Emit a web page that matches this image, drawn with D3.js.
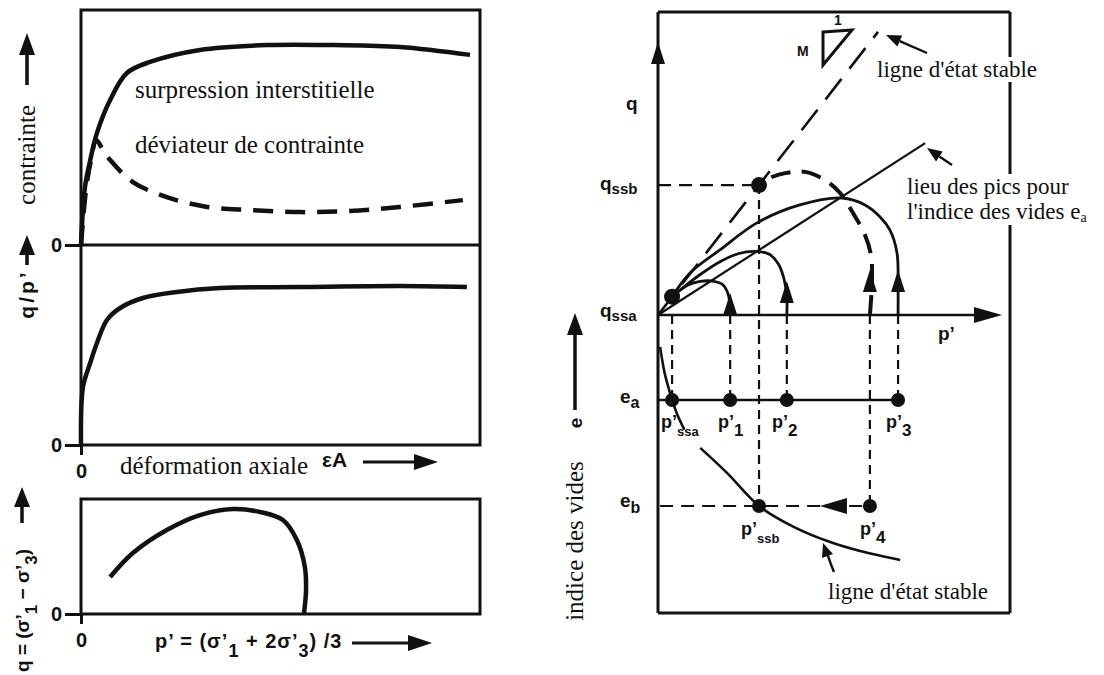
<!DOCTYPE html>
<html>
<head>
<meta charset="utf-8">
<script src="https://cdn.jsdelivr.net/npm/d3@7"></script>
<style>
  body { margin: 0; background: #fff; }
  .serif { font-family: "Liberation Serif", "DejaVu Serif", serif; font-size: 25px; fill: #111; }
  .serifR { font-family: "Liberation Serif", "DejaVu Serif", serif; font-size: 23px; fill: #111; }
  .sans { font-family: "Liberation Sans", Arial, sans-serif; font-weight: bold; font-size: 17px; fill: #111; }
</style>
</head>
<body>
<svg id="chart" width="1104" height="675"></svg>
<script>
// ---------- data (relative units 0-100) ----------
// top-left: stress vs axial strain
const poreStrain   = [0, 1, 2.3, 4, 7.3, 11.5, 17.3, 29.8, 46.6, 63.2, 80, 97.5];
const porePressure = [0, 24.7, 36, 47.7, 61.7, 73.2, 77.9, 83, 85.1, 85.1, 84.3, 80.9];
const devStrain    = [0, 1.25, 2.5, 3.8, 5.5, 7.3, 13, 21.5, 31.6, 42.4, 54.9, 67.4, 79.9, 95.7];
const devStress    = [0, 23.4, 36.2, 44.7, 40.4, 36.2, 26.8, 20.4, 16.2, 14.9, 14, 14.5, 16.2, 19.1];
// middle-left: q/p' vs axial strain
const ratioStrain  = [0, 0.5, 2.3, 4, 6.5, 9.8, 15.5, 24, 34.8, 54.9, 80, 96.7];
const ratioQP      = [0, 29, 41, 51, 62.5, 68.5, 73.5, 76.5, 78.5, 79, 79.5, 79];
// bottom-left: stress path q vs p'
const pathP        = [7.3, 13, 21.5, 29.8, 38.1, 44.9, 50.6, 54.1, 56.1, 56.4, 55.9];
const pathQ        = [32.2, 53, 73, 86, 91.3, 88.7, 81.7, 64.3, 40.9, 20.9, 0.9];

// right: q - p' plane and e - p' plane
const slopeM   = 1.51;          // steady state line q = M p'
const sslEndP  = 62.5;
const lieuP    = [0, 75.9];
const lieuQ    = [0, 57.3];
const qSSA = 6.1, qSSB = 43.3;
const eA = 71.5, eB = 35.9;
const pNames  = ["ssa", "1", "ssb", "2", "4", "3"];
const pValues = [4.0, 20.5, 28.7, 36.6, 60.2, 68.2];
const path1P = [20.5, 20.3, 19.6, 18.3, 15.5, 12, 8.5, 4];
const path1Q = [0, 5, 8, 10.2, 11.3, 11.2, 10, 6.1];
const path2P = [36.6, 36.6, 35.8, 34.2, 31.5, 27.5, 23, 18, 12, 7, 4];
const path2Q = [0, 6, 12, 17, 20.3, 21.2, 20.5, 18, 13.5, 9, 6.1];
const path3P = [68.2, 68.2, 67.9, 65.9, 63.1, 58.8, 52.3, 40.3, 28.1, 17.6, 9.1, 4];
const path3Q = [0, 8.3, 20.7, 28.3, 32.7, 36.7, 39, 36.7, 30.7, 21.7, 14, 6.1];
const path4P = [60.2, 60.8, 60.5, 58.8, 55.4, 51.7, 47.4, 41.8, 36.1, 31.8, 28.7];
const path4Q = [0, 11.7, 20, 26.7, 34, 40.7, 45, 47.7, 47.3, 45.7, 43.3];
const arrowP = [20.5, 36.6, 60.2, 68.2];
const arrowQ = [7.3, 11.3, 15, 15];
// steady state line in e - p' (split where the p'ssa label sits)
const sslEP1 = [0.6, 1.8, 3, 4, 5.5, 7.5];
const sslEE1 = [89.3, 81, 75.5, 71.5, 66.5, 61.5];
const sslEP2 = [12, 19.6, 28.7, 38.4, 48.9, 57.4, 68.8];
const sslEE2 = [55.4, 47, 35.9, 29, 23.8, 20.8, 17.8];

const ink = "#111";
const svg = d3.select("#chart");

// ---------- scales ----------
const xL = d3.scaleLinear().domain([0, 100]).range([81, 480]);
const yA = d3.scaleLinear().domain([0, 100]).range([245, 10]);
const yB = d3.scaleLinear().domain([0, 100]).range([445, 245]);
const yC = d3.scaleLinear().domain([0, 100]).range([614, 499]);
const xR = d3.scaleLinear().domain([0, 100]).range([658, 1010]);
const qR = d3.scaleLinear().domain([0, 100]).range([315, 15]);
const eR = d3.scaleLinear().domain([0, 100]).range([613, 315]);

const smooth = d3.curveCatmullRom.alpha(0.5);

function curve(xs, ys, sx, sy) {
  return d3.line().x(d => sx(d[0])).y(d => sy(d[1])).curve(smooth)(d3.zip(xs, ys));
}

function arrow(x1, y1, x2, y2, len = 16, half = 6, width = 2.5) {
  const a = Math.atan2(y2 - y1, x2 - x1);
  const bx = x2 - len * Math.cos(a), by = y2 - len * Math.sin(a);
  svg.append("line").attr("x1", x1).attr("y1", y1).attr("x2", bx).attr("y2", by)
    .attr("stroke", ink).attr("stroke-width", width);
  const px = -Math.sin(a) * half, py = Math.cos(a) * half;
  svg.append("path")
    .attr("d", `M${x2},${y2}L${bx + px},${by + py}L${bx - px},${by - py}Z`)
    .attr("fill", ink);
}

// text made of [string, isSub] parts
function label(x, y, parts, cls, opts = {}) {
  const t = svg.append("text").attr("class", cls).attr("x", x).attr("y", y)
    .attr("text-anchor", opts.anchor || "start");
  if (opts.rotate) t.attr("transform", `rotate(-90,${x},${y})`);
  if (opts.size) t.style("font-size", opts.size);
  if (opts.spacing) t.style("letter-spacing", opts.spacing);
  let shifted = false;
  parts.forEach(([s, sub]) => {
    const sp = t.append("tspan").text(s);
    if (sub && !shifted) { sp.attr("dy", opts.subDy || 6).style("font-size", opts.subSize || "13px"); shifted = true; }
    else if (sub) { sp.style("font-size", opts.subSize || "13px"); }
    else if (!sub && shifted) { sp.attr("dy", -(opts.subDy || 6)); shifted = false; }
  });
  if (opts.halo) {
    const b = t.node().getBBox();
    svg.insert("rect", () => t.node())
      .attr("x", b.x - 2).attr("y", b.y).attr("width", b.width + 4).attr("height", b.height)
      .attr("fill", "#fff");
  }
  return t;
}

// ---------- left panels ----------
svg.append("rect").attr("x", 81).attr("y", 10).attr("width", 399).attr("height", 435)
  .attr("fill", "none").attr("stroke", ink).attr("stroke-width", 3);
svg.append("line").attr("x1", 81).attr("x2", 480).attr("y1", yA(0)).attr("y2", yA(0))
  .attr("stroke", ink).attr("stroke-width", 3);
svg.append("rect").attr("x", 81).attr("y", 499).attr("width", 399).attr("height", 115)
  .attr("fill", "none").attr("stroke", ink).attr("stroke-width", 3);

// zero ticks through d3 axes
function zeroLeft(scale) {
  const g = svg.append("g").attr("transform", "translate(81,0)")
    .call(d3.axisLeft(scale).tickValues([0]).tickSize(16).tickPadding(3).tickFormat(() => "0"));
  g.select(".domain").remove();
  g.selectAll("line").attr("stroke", ink).attr("stroke-width", 3);
  g.selectAll("text").attr("class", "sans").style("font-size", "20px").attr("fill", ink);
}
function zeroBottom(yPix) {
  const g = svg.append("g").attr("transform", `translate(0,${yPix})`)
    .call(d3.axisBottom(xL).tickValues([0]).tickSize(10).tickPadding(9).tickFormat(() => "0"));
  g.select(".domain").remove();
  g.selectAll("line").attr("stroke", ink).attr("stroke-width", 3);
  g.selectAll("text").attr("class", "sans").style("font-size", "20px").attr("fill", ink);
}
zeroLeft(yA); zeroLeft(yB); zeroLeft(yC);
zeroBottom(445); zeroBottom(614);

svg.append("path").attr("d", curve(devStrain, devStress, xL, yA))
  .attr("fill", "none").attr("stroke", ink).attr("stroke-width", 4.5)
  .attr("stroke-dasharray", "20,12");
svg.append("path").attr("d", curve(poreStrain, porePressure, xL, yA))
  .attr("fill", "none").attr("stroke", ink).attr("stroke-width", 4.5);
svg.append("path").attr("d", curve(ratioStrain, ratioQP, xL, yB))
  .attr("fill", "none").attr("stroke", ink).attr("stroke-width", 4.5);
svg.append("path").attr("d", curve(pathP, pathQ, xL, yC))
  .attr("fill", "none").attr("stroke", ink).attr("stroke-width", 4.5);

label(135, 98, [["surpression interstitielle"]], "serif");
label(135, 153, [["déviateur de contrainte"]], "serif");
label(120, 474, [["déformation axiale"]], "serif");
label(322, 467, [["\u03b5A"]], "sans", { size: "21px" });
arrow(363, 462, 438, 462, 24, 8, 3);
label(155, 648, [["p\u2019 = (\u03c3\u2019"], ["1", true], [" + 2\u03c3\u2019"], ["3", true], [") /3"]], "sans",
  { size: "20px", spacing: "1px", subDy: 9, subSize: "18px" });
arrow(352, 643, 432, 643, 24, 8, 3);

// rotated axis titles on the left
arrow(27, 85, 27, 33, 22, 8, 3.5);
label(35, 155, [["contrainte"]], "serif", { rotate: true, anchor: "middle" });
arrow(27, 265, 27, 235, 20, 8, 3.5);
label(34, 294, [["q/p\u2019"]], "sans", { rotate: true, anchor: "middle", size: "21px", spacing: "3px" });
arrow(22, 523, 22, 487, 20, 8, 3.5);
label(29, 672, [["q = (\u03c3\u2019"], ["1", true], [" \u2212 \u03c3\u2019"], ["3", true], [")"]], "sans",
  { rotate: true, size: "19px", subDy: 8, subSize: "17px" });

// ---------- right panel ----------
const boxR = { x0: 658, x1: 1010, y0: 12, y1: 613 };
[[boxR.x0, boxR.y0, boxR.x1, boxR.y0], [boxR.x0, boxR.y1, boxR.x1, boxR.y1],
 [boxR.x0, boxR.y0, boxR.x0, boxR.y1], [boxR.x1, boxR.y0, boxR.x1, boxR.y1]].forEach(([a, b, c, d]) =>
  svg.append("line").attr("x1", a).attr("y1", b).attr("x2", c).attr("y2", d)
    .attr("stroke", ink).attr("stroke-width", 3));

// q axis arrow head and p' axis
svg.append("path").attr("d", `M${boxR.x0},42L${boxR.x0 - 7},64L${boxR.x0 + 7},64Z`).attr("fill", ink);
arrow(xR(0), qR(0), 1002, qR(0), 28, 8, 2.5);

// dashed guide lines
const guide = (x1, y1, x2, y2, dash) => svg.append("line")
  .attr("x1", x1).attr("y1", y1).attr("x2", x2).attr("y2", y2)
  .attr("stroke", ink).attr("stroke-width", 2.2).attr("stroke-dasharray", dash);
pValues.forEach((p, i) => {
  if (pNames[i] === "ssb") guide(xR(p), qR(qSSB), xR(p), eR(eB), "9,6");
  else if (pNames[i] === "4") guide(xR(p), qR(0), xR(p), eR(eB), "9,6");
  else guide(xR(p), qR(0), xR(p), eR(eA), "9,6");
});
guide(xR(0), qR(qSSB), xR(28.7), qR(qSSB), "13,8");
guide(xR(0.6), eR(eB), xR(60.2), eR(eB), "13,8");

// steady state line (dashed) and peak locus (solid)
svg.append("line").attr("x1", xR(0)).attr("y1", qR(0)).attr("x2", xR(sslEndP)).attr("y2", qR(slopeM * sslEndP))
  .attr("stroke", ink).attr("stroke-width", 2.6).attr("stroke-dasharray", "26,13");
svg.append("line").attr("x1", xR(lieuP[0])).attr("y1", qR(lieuQ[0])).attr("x2", xR(lieuP[1])).attr("y2", qR(lieuQ[1]))
  .attr("stroke", ink).attr("stroke-width", 2.2);

// stress paths
[[path1P, path1Q], [path2P, path2Q], [path3P, path3Q]].forEach(([ps, qs]) => {
  svg.append("path").attr("d", curve(ps, qs, xR, qR))
    .attr("fill", "none").attr("stroke", ink).attr("stroke-width", 2.8);
});
svg.append("path").attr("d", curve(path4P, path4Q, xR, qR))
  .attr("fill", "none").attr("stroke", ink).attr("stroke-width", 4).attr("stroke-dasharray", "20,11");
arrowP.forEach((p, i) => {
  const x = xR(p), y = qR(arrowQ[i]);
  svg.append("path").attr("d", `M${x},${y}L${x - 7},${y + 22}L${x + 7},${y + 22}Z`).attr("fill", ink);
});

// e - p' plane
svg.append("line").attr("x1", xR(0)).attr("x2", xR(68.2)).attr("y1", eR(eA)).attr("y2", eR(eA))
  .attr("stroke", ink).attr("stroke-width", 2.6);
svg.append("path").attr("d", curve(sslEP1, sslEE1, xR, eR))
  .attr("fill", "none").attr("stroke", ink).attr("stroke-width", 2.6);
svg.append("path").attr("d", curve(sslEP2, sslEE2, xR, eR))
  .attr("fill", "none").attr("stroke", ink).attr("stroke-width", 2.6);
svg.append("path")
  .attr("d", `M${xR(46)},${eR(eB)}L${xR(46) + 27},${eR(eB) - 8}L${xR(46) + 27},${eR(eB) + 8}Z`)
  .attr("fill", ink);

// dots
svg.selectAll("circle.ea").data(pValues.filter((p, i) => ["ssa", "1", "2", "3"].includes(pNames[i])))
  .enter().append("circle").attr("cx", d => xR(d)).attr("cy", eR(eA)).attr("r", 7).attr("fill", ink);
svg.selectAll("circle.eb").data([28.7, 60.2])
  .enter().append("circle").attr("cx", d => xR(d)).attr("cy", eR(eB)).attr("r", 7).attr("fill", ink);
svg.selectAll("circle.q").data([[4.0, qSSA], [28.7, qSSB]])
  .enter().append("circle").attr("cx", d => xR(d[0])).attr("cy", d => qR(d[1])).attr("r", 8).attr("fill", ink);

// slope triangle
svg.append("path").attr("d", "M823,32L852,30L823,65Z").attr("fill", "none").attr("stroke", ink).attr("stroke-width", 3);
label(797, 56, [["M"]], "sans", { size: "14px" });
label(834, 25, [["1"]], "sans", { size: "14px" });

// axis labels right
label(626, 110, [["q"]], "sans", { size: "19px" });
label(600, 190, [["q"], ["ssb", true]], "sans", { size: "19px", subDy: 4, subSize: "15px" });
label(600, 317, [["q"], ["ssa", true]], "sans", { size: "19px", subDy: 4, subSize: "15px" });
label(620, 403, [["e"], ["a", true]], "sans", { size: "19px", subDy: 5, subSize: "16px" });
label(620, 507, [["e"], ["b", true]], "sans", { size: "19px", subDy: 6, subSize: "16px" });
label(938, 340, [["p\u2019"]], "sans", { size: "19px" });

arrow(575, 410, 575, 313, 22, 8, 3.5);
label(582, 423, [["e"]], "sans", { rotate: true, anchor: "middle", size: "19px" });
label(583, 541, [["indice des vides"]], "serif", { rotate: true, anchor: "middle" });

// p' point labels
const pLabelPos = {
  ssa: [661, 428], "1": [718, 428], "2": [772, 428], "3": [886, 428],
  ssb: [741, 535], "4": [860, 535]
};
pNames.forEach(n => {
  const [x, y] = pLabelPos[n];
  label(x, y, [["p\u2019"], [n, true]], "sans", { size: "18px", subDy: 8, subSize: n.length > 1 ? "13px" : "17px" });
});

// annotations
arrow(927, 53, 886, 35, 15, 6, 2.4);
label(877, 77, [["ligne d'état stable"]], "serifR", { halo: true });
arrow(952, 165, 927, 148, 15, 6, 2.4);
label(907, 194, [["lieu des pics pour"]], "serifR", { halo: true });
label(907, 219, [["l'indice des vides e"], ["a", true]], "serifR", { halo: true, subDy: 3, subSize: "14px" });
svg.append("path").attr("d", "M834,572Q829,560 827,552").attr("fill", "none").attr("stroke", ink).attr("stroke-width", 2.5);
svg.append("path").attr("d", "M823,543L822,558L833,554Z").attr("fill", ink);
label(828, 599, [["ligne d'état stable"]], "serifR");
</script>
</body>
</html>
